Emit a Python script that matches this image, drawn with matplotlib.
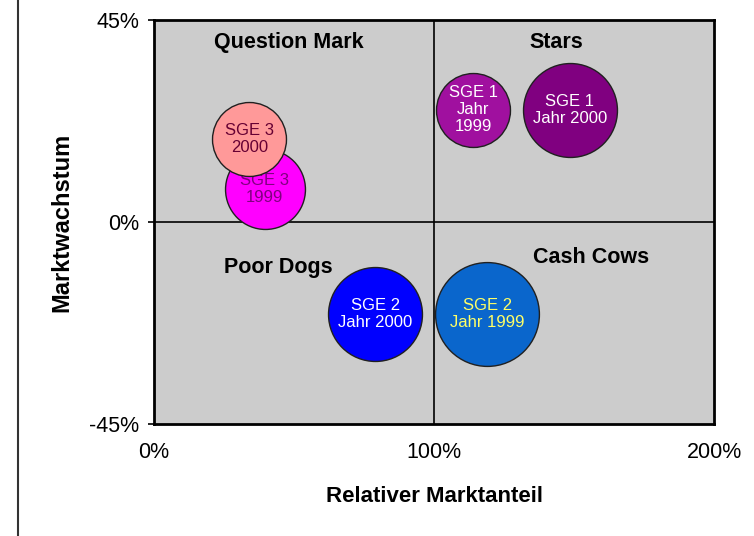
import matplotlib
matplotlib.use("Agg")
import matplotlib.pyplot as plt
from matplotlib.lines import Line2D

plt.rcParams["font.family"] = ["Liberation Sans", "DejaVu Sans"]

# BCG portfolio data (drawing order: later items lie on top)
labels = ["SGE 3\n1999", "SGE 3\n2000", "SGE 1\nJahr\n1999", "SGE 1\nJahr 2000", "SGE 2\nJahr 2000", "SGE 2\nJahr 1999"]
market_share = [39.6, 34, 114, 148.5, 79, 119]      # relativer Marktanteil [%]
market_growth = [7.3, 18.5, 25, 25, -20.5, -20.5]   # Marktwachstum [%]
bubble_size = [1.6, 1.37, 1.37, 2.21, 2.21, 2.7]    # relative Umsatzgröße

face_colors = ["#ff00ff", "#ff9999", "#a0109f", "#800080", "#0000ff", "#0a66cc"]
text_colors = ["#800080", "#660033", "white", "white", "white", "#ffff66"]

quadrants = ["Question Mark", "Stars", "Poor Dogs", "Cash Cows"]
quadrant_x = [48, 143.6, 44.3, 156]
quadrant_y = [40, 40, -10.2, -7.8]

x_ticks = [0, 100, 200]
y_ticks = [-45, 0, 45]

fig = plt.figure(figsize=(7.54, 5.36), dpi=100)
ax = fig.add_axes([154 / 754, 1 - 424 / 536, 560 / 754, 404 / 536])
ax.set_facecolor("#cccccc")

# Quadrant dividers
ax.axvline(100, color="black", linewidth=1.2, zorder=1)
ax.axhline(0, color="black", linewidth=1.2, zorder=1)

for x, q_y, q in zip(quadrant_x, quadrant_y, quadrants):
    ax.text(x, q_y, q, ha="center", va="center", fontsize=15.5, fontweight="bold", zorder=2)

# Bubbles (area ~ size), each with its text, stacked in order
for i, (x, y, s, lab, fc, tc) in enumerate(zip(market_share, market_growth, bubble_size,
                                               labels, face_colors, text_colors)):
    z = 3 + 2 * i
    ax.scatter([x], [y], s=s * 2070, c=fc, edgecolors="#202020", linewidths=1.0, zorder=z)
    ax.text(x, y, lab, ha="center", va="center", fontsize=12, color=tc,
            linespacing=1.15, zorder=z + 1)

ax.set_xlim(0, 200)
ax.set_ylim(-45, 45)
ax.set_xticks(x_ticks)
ax.set_xticklabels([f"{t}%" for t in x_ticks])
ax.set_yticks(y_ticks)
ax.set_yticklabels([f"{t}%" for t in y_ticks])
ax.tick_params(axis="x", length=0, pad=13, labelsize=15.5)
ax.tick_params(axis="y", length=4.5, width=1.2, pad=6, labelsize=15.5, direction="out")

for spine in ax.spines.values():
    spine.set_linewidth(2)
    spine.set_color("black")

ax.set_xlabel("Relativer Marktanteil", fontsize=16, fontweight="bold", va="center")
ax.xaxis.set_label_coords(0.5, -(497 - 424) / 404)
ax.set_ylabel("Marktwachstum", fontsize=17, fontweight="bold", va="center")
ax.yaxis.set_label_coords(-(154 - 62) / 560, 0.5)

# left frame line of the chart area
fig.add_artist(Line2D([18 / 754, 18 / 754], [0, 1], color="#333333", linewidth=1.5))

fig.savefig("out.png", dpi=100)
